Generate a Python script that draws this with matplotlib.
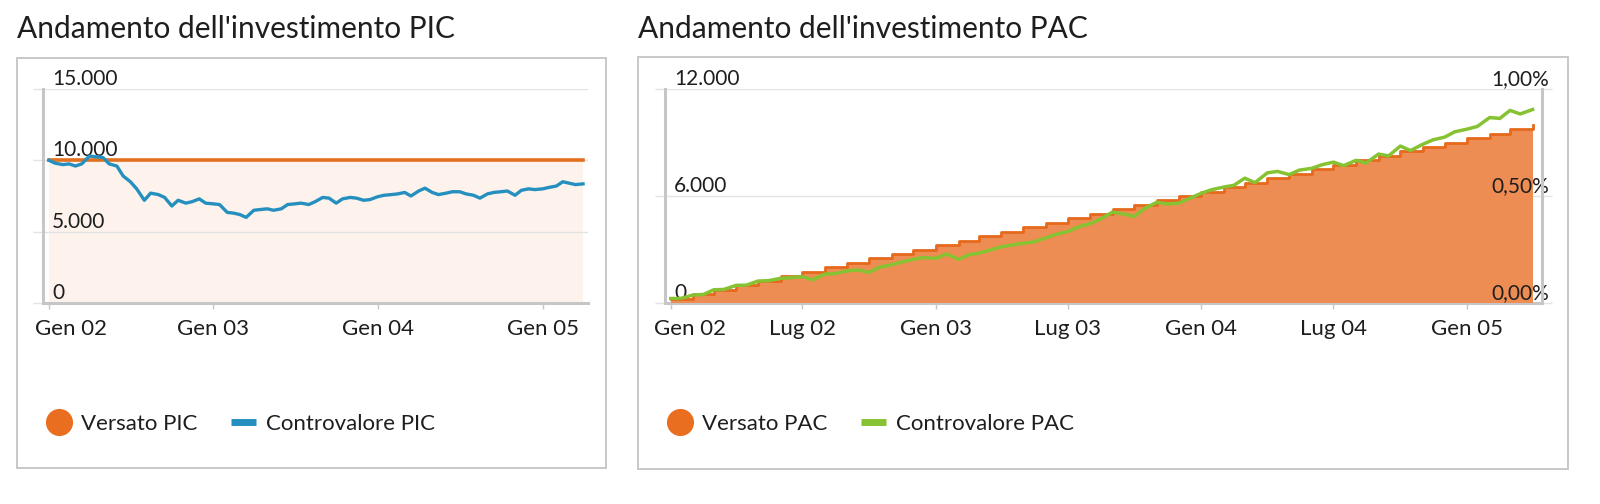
import matplotlib.pyplot as plt
from matplotlib.lines import Line2D
from matplotlib.patches import Rectangle
from matplotlib.transforms import ScaledTranslation
import pandas as pd

plt.rcParams['font.family'] = ['Lato', 'DejaVu Sans']

# --- PIC: lump sum of 10.000 and its market value (semi-monthly readings)
pic_dates = pd.date_range('2002-01-01', periods=79, freq='SMS')
versato_pic = 10000
controvalore_pic = [
    10000, 9800, 9700, 9750, 9600, 9750, 10300, 10250, 10200, 9750,
    9600, 8900, 8500, 8000, 7200, 7700, 7600, 7400, 6800, 7200,
    7000, 7100, 7300, 7000, 6950, 6900, 6350, 6300, 6200, 6000,
    6500, 6550, 6600, 6500, 6600, 6900, 6950, 7000, 6900, 7100,
    7400, 7350, 7000, 7300, 7400, 7350, 7200, 7250, 7450, 7550,
    7600, 7650, 7750, 7500, 7850, 8050, 7750, 7600, 7700, 7800,
    7800, 7650, 7550, 7350, 7650, 7750, 7800, 7850, 7550, 7900,
    8000, 7950, 8000, 8100, 8200, 8500, 8400, 8300, 8350,
]
pic_ticks = ['2002-01-01', '2003-01-01', '2004-01-01', '2005-01-01']
pic_tick_labels = ['Gen 02', 'Gen 03', 'Gen 04', 'Gen 05']
pic_yticks = [0, 5000, 10000, 15000]
pic_ylabels = ['0', '5.000', '10.000', '15.000']

# --- PAC: monthly payments and market value
pac_month_dates = pd.date_range('2002-01-01', periods=40, freq='MS')
versato_pac = [
    250, 500, 750, 1000, 1250, 1500, 1750, 2000, 2250, 2500,
    2750, 3000, 3250, 3500, 3750, 4000, 4250, 4500, 4750, 5000,
    5250, 5500, 5750, 6000, 6250, 6500, 6750, 7000, 7250, 7500,
    7750, 8000, 8250, 8500, 8750, 9000, 9250, 9500, 9750, 10000,
]
pac_dates = pd.date_range('2002-01-01', periods=79, freq='SMS')
controvalore_pac = [
    250, 260, 450, 480, 740, 760, 990, 1000, 1230, 1250,
    1380, 1420, 1480, 1300, 1620, 1650, 1800, 1850, 1720, 2000,
    2150, 2300, 2450, 2550, 2500, 2750, 2450, 2700, 2800, 2950,
    3150, 3250, 3350, 3420, 3650, 3850, 4000, 4250, 4450, 4700,
    5100, 5000, 4850, 5300, 5650, 5550, 5600, 5850, 6150, 6350,
    6500, 6600, 7000, 6750, 7300, 7380, 7200, 7450, 7550, 7750,
    7900, 7700, 8000, 7850, 8350, 8250, 8800, 8550, 8900, 9150,
    9300, 9600, 9750, 9900, 10400, 10350, 10800, 10600, 10850,
]
pac_ticks = ['2002-01-01', '2002-07-01', '2003-01-01', '2003-07-01',
             '2004-01-01', '2004-07-01', '2005-01-01']
pac_tick_labels = ['Gen 02', 'Lug 02', 'Gen 03', 'Lug 03', 'Gen 04', 'Lug 04', 'Gen 05']
pac_yticks = [0, 6000, 12000]
pac_ylabels = ['0', '6.000', '12.000']
pac_rticks = [0, 0.5, 1.0]
pac_rlabels = ['0,00%', '0,50%', '1,00%']

W, H = 1600, 504
GRID = '#e3e3e3'
SPINE = '#c6c6c6'
TXT = '#1e1e1e'


def style_axes(fig, ax, ticks, tick_labels, yticks, ylabels, ymax, first_shift):
    ax.set_ylim(0, ymax)
    ax.set_yticks(yticks)
    ax.set_yticklabels(ylabels)
    ax.set_xticks(pd.to_datetime(ticks))
    ax.set_xticklabels(tick_labels)
    ax.grid(axis='y', color=GRID, lw=1)
    for s in ['top', 'right']:
        ax.spines[s].set_visible(False)
    ax.spines['left'].set_color(SPINE)
    ax.spines['left'].set_linewidth(2.2)
    ax.spines['bottom'].set_color(SPINE)
    ax.spines['bottom'].set_linewidth(2.2)
    ax.tick_params(axis='y', length=7.2, color=GRID, width=1, pad=-13.7,
                   labelsize=15, labelcolor=TXT)
    ax.tick_params(axis='x', length=4.3, color=SPINE, width=1, pad=7,
                   labelsize=16, labelcolor=TXT)
    for lab in ax.get_yticklabels():
        lab.set_ha('left')
        lab.set_va('bottom')
    # first date label is pushed right so it stays inside the frame
    first = ax.get_xticklabels()[0]
    first.set_ha('left')
    first.set_transform(first.get_transform()
                        + ScaledTranslation(-first_shift / 100, 0, fig.dpi_scale_trans))


fig = plt.figure(figsize=(W / 100, H / 100), dpi=100)

# panel frames and titles
for x0, x1, y0, y1, title in [(17, 606, 58, 468, "Andamento dell'investimento PIC"),
                              (638, 1568, 57, 469, "Andamento dell'investimento PAC")]:
    fig.add_artist(Rectangle((x0 / W, 1 - y1 / H), (x1 - x0) / W, (y1 - y0) / H,
                             transform=fig.transFigure, fill=False, ec='#c8c8c8', lw=1.4))
    fig.text(x0 / W, 1 - 38 / H, title, fontsize=21.5, color=TXT, va='baseline', ha='left')

# --- PIC
ax1 = fig.add_axes([43 / W, 1 - 303 / H, 545 / W, 214 / H])
ax1.fill_between(pic_dates, 0, versato_pic, color='#fdf3ec', lw=0, zorder=1)
ax1.plot(pic_dates, [versato_pic] * len(pic_dates), color='#e2701e', lw=2.6, zorder=3)
ax1.plot(pic_dates, controvalore_pic, color='#2590c0', lw=2.4, zorder=3.1)
ax1.set_xlim(pd.Timestamp('2001-12-19'), pd.Timestamp('2005-04-12'))
style_axes(fig, ax1, pic_ticks, pic_tick_labels, pic_yticks, pic_ylabels, 15000, 14)

# --- PAC
ax2 = fig.add_axes([665 / W, 1 - 303 / H, 877 / W, 214 / H])
ax2.fill_between(pac_month_dates, 0, versato_pac, step='post', color='#ee8d53',
                 lw=0, zorder=2.6)
ax2.step(pac_month_dates, versato_pac, where='post', color='#e6691c', lw=2, zorder=3)
ax2.plot(pac_dates, controvalore_pac, color='#86c232', lw=2.5, zorder=3.1)
ax2.set_xlim(pd.Timestamp('2001-12-24'), pd.Timestamp('2005-04-14'))
style_axes(fig, ax2, pac_ticks, pac_tick_labels, pac_yticks, pac_ylabels, 12000, 17)

ax3 = ax2.twinx()
ax3.set_ylim(0, 1)
ax3.set_yticks(pac_rticks)
ax3.set_yticklabels(pac_rlabels)
for s in ['top', 'left', 'bottom']:
    ax3.spines[s].set_visible(False)
ax3.spines['right'].set_color(SPINE)
ax3.spines['right'].set_linewidth(2.2)
ax3.tick_params(axis='y', length=7.2, color=GRID, width=1, pad=-2.2,
                labelsize=15, labelcolor=TXT)
for lab in ax3.get_yticklabels():
    lab.set_ha('right')
    lab.set_va('bottom')

# --- legends
for x_left, orange, name, line_col in [(47, '#e96e1f', 'PIC', '#2590c0'),
                                       (668, '#e96e1f', 'PAC', '#86c232')]:
    handles = [Line2D([], [], marker='o', ls='none', ms=18.5, color=orange),
               Line2D([], [], color=line_col, lw=5, solid_capstyle='butt')]
    fig.legend(handles, ['Versato ' + name, 'Controvalore ' + name],
               loc='center left', bbox_to_anchor=(x_left / W, 1 - 424 / H),
               ncol=2, frameon=False, fontsize=16, handlelength=1.1,
               handletextpad=0.45, columnspacing=1.5, borderpad=0, borderaxespad=0,
               labelcolor=TXT)

fig.savefig('out.png', dpi=100)
